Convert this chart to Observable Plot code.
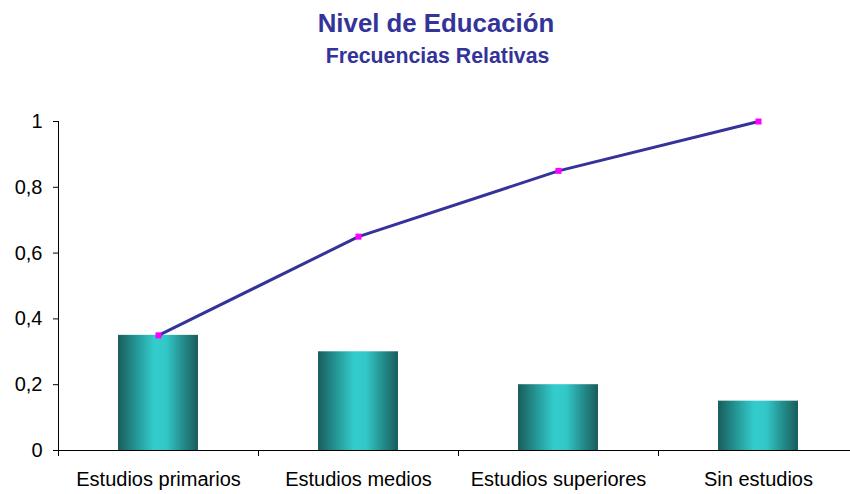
<!DOCTYPE html>
<html>
<head>
<meta charset="utf-8">
<script src="https://cdn.jsdelivr.net/npm/d3@7"></script>
<script src="https://cdn.jsdelivr.net/npm/@observablehq/plot@0.6"></script>
<style>
  html, body { margin: 0; padding: 0; background: #fff; }
  #chart { position: relative; width: 850px; height: 494px; overflow: hidden; }
  svg { overflow: visible; }
</style>
</head>
<body>
<div id="chart"></div>
<script>
const title = "Nivel de Educación";
const subtitle = "Frecuencias Relativas";
const categories = ["Estudios primarios", "Estudios medios", "Estudios superiores", "Sin estudios"];
const relFreq = [0.35, 0.30, 0.20, 0.15];
const cumFreq = [0.35, 0.65, 0.85, 1.0];
const yTicks = [0, 0.2, 0.4, 0.6, 0.8, 1];

const bars = categories.map((c, i) => ({cat: c, value: relFreq[i]}));
const cum = categories.map((c, i) => ({cat: c, value: cumFreq[i]}));

const font = "'Liberation Sans', Arial, sans-serif";
const navy = "#333399";

const defs = () => {
  const svgNS = "http://www.w3.org/2000/svg";
  const d = document.createElementNS(svgNS, "defs");
  d.innerHTML = `<linearGradient id="barGrad" x1="0" x2="1" y1="0" y2="0">
      <stop offset="0" stop-color="#1a5c5c"/>
      <stop offset="0.2" stop-color="#23908f"/>
      <stop offset="0.45" stop-color="#33cccc"/>
      <stop offset="0.6" stop-color="#33c8c8"/>
      <stop offset="0.8" stop-color="#24908f"/>
      <stop offset="1" stop-color="#1a5c5c"/>
    </linearGradient>`;
  return d;
};

const chart = Plot.plot({
  width: 850,
  height: 494,
  marginLeft: 58,
  marginRight: 0,
  marginTop: 121,
  marginBottom: 44,
  style: {fontFamily: font, fontSize: "20px", color: "#000", background: "#fff"},
  x: {type: "band", domain: categories, range: [58, 858], paddingInner: 0.6, paddingOuter: 0.3, align: 0.5, axis: null},
  y: {domain: [0, 1], range: [450, 121], axis: null},
  marks: [
    defs,
    Plot.barY(bars, {x: "cat", y: "value", fill: "url(#barGrad)"}),
    Plot.axisY(yTicks, {
      label: null, tickSize: 5, tickPadding: 11, stroke: "#000", strokeWidth: 1,
      tickFormat: d => String(d).replace(".", ","), fontSize: 20, fill: "#000"
    }),
    Plot.ruleY([0], {stroke: "#000", strokeWidth: 1}),
    Plot.axisX({label: null, tickSize: 0, tickPadding: 21, fontSize: 20, fill: "#000", stroke: null}),
    // line of cumulative frequencies
    Plot.line(cum, {x: "cat", y: "value", stroke: navy, strokeWidth: 3}),
    Plot.dot(cum, {x: "cat", y: "value", symbol: "square", r: 3.4, fill: "#ff00ff", stroke: null}),
    // titles
    Plot.text([title], {frameAnchor: "top", dx: -18.5, dy: -107.5, fontSize: 25.8, fontWeight: "bold", fill: navy, text: d => d}),
    Plot.text([subtitle], {frameAnchor: "top", dx: -17, dy: -73.5, fontSize: 21.3, fontWeight: "bold", fill: navy, text: d => d})
  ]
});

// vertical axis line and category boundary ticks drawn with scales
const svg = d3.select(chart);
const xs = chart.scale("x");
const ys = chart.scale("y");
const step = xs.step;
const xStart = xs.apply(categories[0]) - step * xs.paddingOuter;
const boundaries = d3.range(categories.length + 1).map(i => xStart + i * step);
const g = svg.append("g").attr("stroke", "#000").attr("stroke-width", 1);
g.append("line").attr("x1", 58.5).attr("x2", 58.5).attr("y1", ys.apply(1)).attr("y2", ys.apply(0) + 6);
boundaries.slice(1, -1).forEach(b => {
  g.append("line").attr("x1", b + 0.5).attr("x2", b + 0.5).attr("y1", ys.apply(0)).attr("y2", ys.apply(0) + 6);
});

document.getElementById("chart").appendChild(chart);
</script>
</body>
</html>
